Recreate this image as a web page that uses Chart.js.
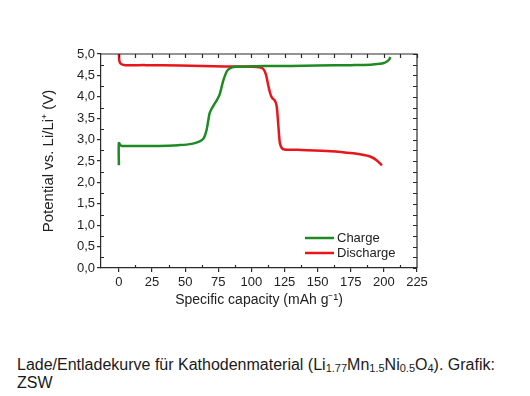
<!DOCTYPE html>
<html>
<head>
<meta charset="utf-8">
<script src="https://cdn.jsdelivr.net/npm/chart.js@4"></script>
<style>
  body { margin: 0; background: #fff; width: 530px; height: 396px; position: relative; overflow: hidden; }
  #chart { position: absolute; left: 0; top: 0; }
  .caption { position: absolute; left: 17px; top: 356px; font: 16px "Liberation Sans", Arial, sans-serif; line-height: 18px; color: #1a1a1a; }
  .caption sub { font-size: 11px; vertical-align: -2px; line-height: 0; }
</style>
</head>
<body>
<canvas id="chart" width="530" height="330"></canvas>
<div class="caption">Lade/Entladekurve für Kathodenmaterial (Li<sub>1.77</sub>Mn<sub>1.5</sub>Ni<sub>0.5</sub>O<sub>4</sub>). Grafik:<br>ZSW</div>
<script>
// values
const chargeCapacity = [0, 0, 1.5, 5, 15, 30, 45, 55, 61, 64, 66, 67.5, 68.5, 70, 71.5, 73.5, 76, 78.5, 80.5, 82, 85, 88, 95, 110, 130, 150, 175, 190, 197, 200, 202, 204, 205];
const chargePotential = [2.40, 2.92, 2.86, 2.85, 2.85, 2.85, 2.87, 2.90, 2.96, 3.03, 3.20, 3.45, 3.62, 3.72, 3.80, 3.90, 4.05, 4.35, 4.53, 4.62, 4.68, 4.70, 4.71, 4.72, 4.72, 4.73, 4.74, 4.75, 4.77, 4.79, 4.82, 4.87, 4.93];
const dischargeCapacity = [0, 0.5, 2, 5, 20, 46, 80, 100, 106, 109, 111, 112.5, 114, 115.5, 117.5, 119, 120.3, 121.5, 123, 125, 135, 160, 177, 185, 190, 194.5, 198.5];
const dischargePotential = [5.0, 4.82, 4.76, 4.74, 4.74, 4.73, 4.71, 4.70, 4.69, 4.65, 4.52, 4.30, 4.10, 3.98, 3.92, 3.80, 3.35, 2.92, 2.80, 2.77, 2.76, 2.73, 2.68, 2.64, 2.60, 2.52, 2.40];
const xTicks = [0, 25, 50, 75, 100, 125, 150, 175, 200, 225];
const yTicks = [0, 0.5, 1, 1.5, 2, 2.5, 3, 3.5, 4, 4.5, 5];

const toPoints = (xs, ys) => xs.map((x, i) => ({ x: x, y: ys[i] }));
const FONT = "'Liberation Sans', Arial, sans-serif";
const AXIS = '#2a2a2a';

// frame, minor ticks and legend like the original figure
const framePlugin = {
  id: 'frame',
  afterDraw(chart) {
    const ctx = chart.ctx;
    const a = chart.chartArea;
    const xs = chart.scales.x, ys = chart.scales.y;
    ctx.save();
    ctx.strokeStyle = AXIS;
    ctx.lineWidth = 1.2;
    ctx.beginPath();
    ctx.moveTo(a.left, a.top); ctx.lineTo(a.right, a.top); ctx.lineTo(a.right, a.bottom);
    for (let v = 0; v <= 225; v += 12.5) {
      const px = Math.round(xs.getPixelForValue(v)) + 0.5;
      ctx.moveTo(px, a.top); ctx.lineTo(px, a.top + 4);
      if (v % 25 !== 0) { ctx.moveTo(px, a.bottom); ctx.lineTo(px, a.bottom - 3); }
    }
    for (let v = 0; v <= 5; v += 0.25) {
      const py = Math.round(ys.getPixelForValue(v)) + 0.5;
      ctx.moveTo(a.right, py); ctx.lineTo(a.right - 4, py);
      if (Math.round(v * 4) % 2 === 1) { ctx.moveTo(a.left, py); ctx.lineTo(a.left + 3, py); }
    }
    ctx.stroke();

    // legend
    ctx.font = '13px ' + FONT;
    ctx.textBaseline = 'middle';
    chart.data.datasets.forEach((ds, i) => {
      const y = 238 + i * 15;
      ctx.strokeStyle = ds.borderColor;
      ctx.lineWidth = 2.5;
      ctx.beginPath(); ctx.moveTo(305, y); ctx.lineTo(334, y); ctx.stroke();
      ctx.fillStyle = '#222';
      ctx.fillText(ds.label, 337, y);
    });
    ctx.restore();
  }
};

new Chart(document.getElementById('chart'), {
  type: 'line',
  data: {
    datasets: [
      { label: 'Charge', data: toPoints(chargeCapacity, chargePotential), borderColor: '#1f8a22', borderWidth: 2.5, pointRadius: 0, tension: 0.3, fill: false },
      { label: 'Discharge', data: toPoints(dischargeCapacity, dischargePotential), borderColor: '#e8161b', borderWidth: 2.5, pointRadius: 0, tension: 0.3, fill: false }
    ]
  },
  options: {
    responsive: false,
    animation: false,
    devicePixelRatio: 1,
    layout: { padding: { left: 0, right: 113, top: 54, bottom: 0 } },
    plugins: { legend: { display: false }, tooltip: { enabled: false } },
    scales: {
      x: {
        type: 'linear', min: -13.5, max: 225,
        afterBuildTicks: (s) => { s.ticks = xTicks.map(v => ({ value: v })); },
        afterFit: (s) => { s.height = 62; },
        ticks: { color: '#222', font: { family: FONT, size: 13 }, padding: 3, maxRotation: 0, callback: (v) => String(v) },
        grid: { drawOnChartArea: false, drawTicks: true, tickLength: 4, color: AXIS, lineWidth: 1.2 },
        border: { display: true, color: AXIS, width: 1.2 },
        title: { display: true, text: 'Specific capacity (mAh g⁻¹)', color: '#222', font: { family: FONT, size: 14 }, padding: { top: 0, bottom: 21 } }
      },
      y: {
        type: 'linear', min: 0, max: 5,
        afterBuildTicks: (s) => { s.ticks = yTicks.map(v => ({ value: v })); },
        afterFit: (s) => { s.width = 101; },
        ticks: { color: '#222', font: { family: FONT, size: 13 }, padding: 2, callback: (v) => v.toFixed(1).replace('.', ',') },
        grid: { drawOnChartArea: false, drawTicks: true, tickLength: 4, color: AXIS, lineWidth: 1.2 },
        border: { display: true, color: AXIS, width: 1.2 },
        title: { display: true, text: 'Potential vs. Li/Li⁺ (V)', color: '#222', font: { family: FONT, size: 15 }, padding: { top: 40 } }
      }
    }
  },
  plugins: [framePlugin]
});
</script>
</body>
</html>
